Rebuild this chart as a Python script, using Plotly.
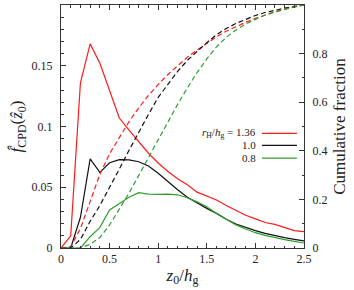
import plotly.graph_objects as go

# ---- data ----
z = [0.0, 0.1, 0.2, 0.3, 0.4, 0.5, 0.6, 0.7, 0.8, 0.9, 1.0, 1.1, 1.2, 1.3,
     1.4, 1.5, 1.6, 1.7, 1.8, 1.9, 2.0, 2.1, 2.2, 2.3, 2.4, 2.5]

pdf_136 = [0.0, 0.010, 0.136, 0.168, 0.152, 0.130, 0.107, 0.097, 0.0875, 0.078,
           0.070, 0.063, 0.057, 0.052, 0.046, 0.043, 0.0395, 0.035, 0.031, 0.027,
           0.024, 0.021, 0.0195, 0.017, 0.0143, 0.0134]
pdf_10 = [0.0, 0.0, 0.0253, 0.0733, 0.0623, 0.0702, 0.0727, 0.0725, 0.0710, 0.0675,
          0.0615, 0.0545, 0.048, 0.0417, 0.037, 0.0326, 0.0285, 0.0236, 0.0197, 0.0167,
          0.0143, 0.0121, 0.0101, 0.0085, 0.0071, 0.0058]
pdf_08 = [0.0, 0.0, 0.0, 0.0093, 0.017, 0.0313, 0.0368, 0.0417, 0.0455, 0.0444,
          0.0442, 0.0444, 0.0438, 0.0414, 0.038, 0.034, 0.0285, 0.0236, 0.019, 0.0156,
          0.0126, 0.0104, 0.0085, 0.0069, 0.0055, 0.0041]

cum_136 = [0.0, 0.006, 0.08, 0.19, 0.303, 0.388, 0.457, 0.520, 0.577, 0.628,
           0.673, 0.714, 0.750, 0.785, 0.815, 0.843, 0.869, 0.892, 0.912, 0.929,
           0.945, 0.959, 0.971, 0.982, 0.992, 1.0]
cum_10 = [0.0, 0.0, 0.035, 0.11, 0.175, 0.247, 0.325, 0.402, 0.478, 0.550,
          0.620, 0.676, 0.727, 0.772, 0.810, 0.845, 0.878, 0.903, 0.924, 0.942,
          0.957, 0.969, 0.979, 0.987, 0.994, 1.0]
cum_08 = [0.0, 0.0, 0.0, 0.015, 0.043, 0.095, 0.160, 0.226, 0.299, 0.373,
          0.445, 0.519, 0.591, 0.659, 0.722, 0.778, 0.828, 0.867, 0.897, 0.922,
          0.942, 0.959, 0.973, 0.984, 0.993, 1.0]

labels = ["<i>r</i><sub>H</sub>/<i>h</i><sub>g</sub> = 1.36", "1.0", "0.8"]
colors = ["#ff1a1a", "#111111", "#2e9e2e"]

x_ticks = [0, 0.5, 1, 1.5, 2, 2.5]
x_ticklabels = ["0", "0.5", "1", "1.5", "2", "2.5"]
y_ticks = [0, 0.05, 0.1, 0.15, 0.2]
y_ticklabels = ["0", "0.05", "0.1", "0.15", "0.2"]
y2_ticks = [0, 0.2, 0.4, 0.6, 0.8, 1.0]
y2_ticklabels = ["0", "0.2", "0.4", "0.6", "0.8", "1"]

FONT = "'Liberation Serif', 'DejaVu Serif', serif"

fig = go.Figure()
for pdf, cum, col in zip([pdf_136, pdf_10, pdf_08], [cum_136, cum_10, cum_08], colors):
    fig.add_trace(go.Scatter(x=z, y=pdf, mode="lines", line=dict(color=col, width=1.2),
                             showlegend=False, yaxis="y"))
    fig.add_trace(go.Scatter(x=z, y=cum, mode="lines",
                             line=dict(color=col, width=1.2, dash="5px,3px"),
                             showlegend=False, yaxis="y2"))

axcol = "#333333"
fig.update_layout(
    width=354, height=290,
    margin=dict(l=61, r=50, t=5, b=42),
    paper_bgcolor="white", plot_bgcolor="white",
    font=dict(family=FONT, size=12, color="#222222"),
    xaxis=dict(range=[0, 2.5], tickvals=x_ticks, ticktext=x_ticklabels,
               ticks="inside", ticklen=5, tickwidth=0.8, tickcolor=axcol,
               minor=dict(dtick=0.1, ticks="inside", ticklen=2.5, tickwidth=0.6, tickcolor=axcol),
               showline=True, linecolor=axcol, linewidth=1, mirror="ticks",
               showgrid=False, zeroline=False,
               title=dict(text="<i>z</i><sub>0</sub>/<i>h</i><sub>g</sub>",
                          font=dict(size=17, family=FONT), standoff=3)),
    yaxis=dict(range=[0, 0.2], tickvals=y_ticks, ticktext=y_ticklabels,
               ticks="inside", ticklen=5, tickwidth=0.8, tickcolor=axcol,
               minor=dict(dtick=0.01, ticks="inside", ticklen=2.5, tickwidth=0.6, tickcolor=axcol),
               showline=True, linecolor=axcol, linewidth=1,
               showgrid=False, zeroline=False, ticklabelstandoff=5,
               title=dict(text="<i>f&#770;</i><sub>CPD</sub>(<i>z&#770;</i><sub>0</sub>)",
                          font=dict(size=17, family=FONT), standoff=4)),
    yaxis2=dict(range=[0, 1], tickvals=y2_ticks, ticktext=y2_ticklabels,
                overlaying="y", side="right",
                ticks="inside", ticklen=5, tickwidth=0.8, tickcolor=axcol,
                minor=dict(dtick=0.1, ticks="inside", ticklen=2.5, tickwidth=0.6, tickcolor=axcol),
                showline=True, linecolor=axcol, linewidth=1,
                showgrid=False, zeroline=False, ticklabelstandoff=5,
                title=dict(text="Cumulative fraction", font=dict(size=17, family=FONT), standoff=6)),
)

# legend drawn as text + line samples (text left of sample line)
leg_y = [0.472, 0.422, 0.370]
for lab, col, yy in zip(labels, colors, leg_y):
    fig.add_annotation(xref="paper", yref="paper", x=0.807, y=yy, text=lab,
                       showarrow=False, xanchor="right", yanchor="middle",
                       borderpad=0, font=dict(size=11, family=FONT, color="#222222"))
    fig.add_shape(type="line", xref="paper", yref="paper", x0=0.827, x1=0.971,
                  y0=yy, y1=yy, line=dict(color=col, width=1.2))

fig.write_html("out.html", config={"displayModeBar": False},
               post_script="document.body.style.margin='0';")
